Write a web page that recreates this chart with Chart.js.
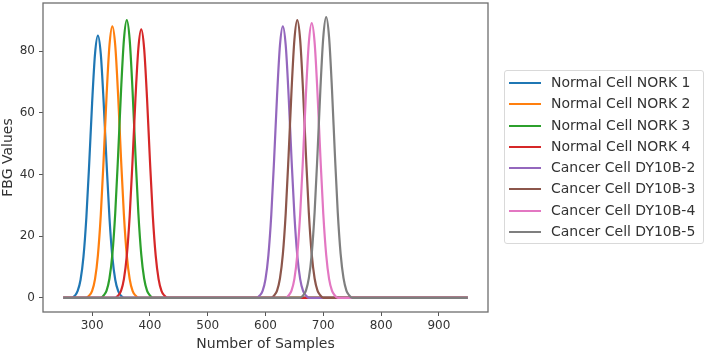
<!DOCTYPE html>
<html>
<head>
<meta charset="utf-8">
<script src="https://cdn.jsdelivr.net/npm/chart.js@4"></script>
<style>
  html, body { margin: 0; padding: 0; background: #fff; }
  #wrap { position: relative; width: 708px; height: 353px; }
  #legend {
    position: absolute; left: 504px; top: 70px; width: 200px; height: 174px;
    border: 1px solid #d9d9d9; border-radius: 3px; box-sizing: border-box;
    padding-top: 1px; font-family: "DejaVu Sans", sans-serif; font-size: 14px; color: #333;
  }
  .row { position: relative; height: 21.3px; }
  .swatch { position: absolute; left: 4px; top: 10px; width: 32px; height: 2px; }
  .lbl { position: absolute; left: 46px; top: 0; line-height: 21.3px; white-space: nowrap; }
</style>
</head>
<body>
<div id="wrap">
  <canvas id="c" width="708" height="353"></canvas>
  <div id="legend"></div>
</div>
<script>
// ---- data ----
const seriesNames = [
  "Normal Cell NORK 1", "Normal Cell NORK 2", "Normal Cell NORK 3", "Normal Cell NORK 4",
  "Cancer Cell DY10B-2", "Cancer Cell DY10B-3", "Cancer Cell DY10B-4", "Cancer Cell DY10B-5"
];
const seriesColors = ["#1f77b4", "#ff7f0e", "#2ca02c", "#d62728", "#9467bd", "#8c564b", "#e377c2", "#7f7f7f"];

const xTicks = [300, 400, 500, 600, 700, 800, 900];
const yTicks = [0, 20, 40, 60, 80];

// x positions (samples) and FBG values for each curve
const nork1X = [250, 265, 270, 275, 280, 285, 290, 295, 300, 305, 310, 315, 320, 325, 330, 335, 340, 345, 350, 355, 950];
const nork1Y = [0, 0, 0.7, 2.3, 5.9, 13.3, 26.0, 43.7, 63.2, 79.0, 85, 79.0, 63.2, 43.7, 26.0, 13.3, 5.9, 2.3, 0.7, 0, 0];
const nork2X = [250, 290, 295, 300, 305, 310, 315, 320, 325, 330, 335, 340, 345, 350, 355, 360, 365, 370, 375, 380, 950];
const nork2Y = [0, 0, 0.8, 2.3, 6.1, 13.8, 26.9, 45.2, 65.5, 81.8, 88, 81.8, 65.5, 45.2, 26.9, 13.8, 6.1, 2.3, 0.8, 0, 0];
const nork3X = [250, 315, 320, 325, 330, 335, 340, 345, 350, 355, 360, 365, 370, 375, 380, 385, 390, 395, 400, 405, 950];
const nork3Y = [0, 0, 0.8, 2.4, 6.3, 14.1, 27.5, 46.3, 67.0, 83.6, 90, 83.6, 67.0, 46.3, 27.5, 14.1, 6.3, 2.4, 0.8, 0, 0];
const nork4X = [250, 340, 345, 350, 355, 360, 365, 370, 375, 380, 385, 390, 395, 400, 405, 410, 415, 420, 425, 430, 950];
const nork4Y = [0, 0, 0.8, 2.3, 6.1, 13.7, 26.6, 44.7, 64.7, 80.8, 87, 80.8, 64.7, 44.7, 26.6, 13.7, 6.1, 2.3, 0.8, 0, 0];
const dy2X = [250, 585, 590, 595, 600, 605, 610, 615, 620, 625, 630, 635, 640, 645, 650, 655, 660, 665, 670, 675, 950];
const dy2Y = [0, 0, 0.8, 2.3, 6.1, 13.8, 26.9, 45.2, 65.5, 81.8, 88, 81.8, 65.5, 45.2, 26.9, 13.8, 6.1, 2.3, 0.8, 0, 0];
const dy3X = [250, 610, 615, 620, 625, 630, 635, 640, 645, 650, 655, 660, 665, 670, 675, 680, 685, 690, 695, 700, 950];
const dy3Y = [0, 0, 0.8, 2.4, 6.3, 14.1, 27.5, 46.3, 67.0, 83.6, 90, 83.6, 67.0, 46.3, 27.5, 14.1, 6.3, 2.4, 0.8, 0, 0];
const dy4X = [250, 635, 640, 645, 650, 655, 660, 665, 670, 675, 680, 685, 690, 695, 700, 705, 710, 715, 720, 725, 950];
const dy4Y = [0, 0, 0.8, 2.4, 6.2, 14.0, 27.2, 45.7, 66.2, 82.7, 89, 82.7, 66.2, 45.7, 27.2, 14.0, 6.2, 2.4, 0.8, 0, 0];
const dy5X = [250, 660, 665, 670, 675, 680, 685, 690, 695, 700, 705, 710, 715, 720, 725, 730, 735, 740, 745, 750, 950];
const dy5Y = [0, 0, 0.8, 2.4, 6.4, 14.3, 27.8, 46.8, 67.7, 84.5, 91, 84.5, 67.7, 46.8, 27.8, 14.3, 6.4, 2.4, 0.8, 0, 0];

const seriesX = [nork1X, nork2X, nork3X, nork4X, dy2X, dy3X, dy4X, dy5X];
const seriesY = [nork1Y, nork2Y, nork3Y, nork4Y, dy2Y, dy3Y, dy4Y, dy5Y];

// ---- chart ----
const datasets = seriesNames.map((name, i) => ({
  label: name,
  data: seriesX[i].map((x, k) => ({ x: x, y: seriesY[i][k] })),
  borderColor: seriesColors[i],
  backgroundColor: seriesColors[i],
  borderWidth: 2.2,
  pointRadius: 0,
  fill: false,
  cubicInterpolationMode: 'monotone',
  order: seriesNames.length - i
}));

const framePlugin = {
  id: 'frame',
  afterDraw(chart) {
    const a = chart.chartArea, ctx = chart.ctx;
    ctx.save();
    ctx.strokeStyle = '#6e6e6e';
    ctx.lineWidth = 1.3;
    ctx.strokeRect(a.left, a.top, a.right - a.left, a.bottom - a.top);
    ctx.restore();
  }
};

const tickFont = { family: "DejaVu Sans", size: 12 };
const titleFont = { family: "DejaVu Sans", size: 14 };

new Chart(document.getElementById('c'), {
  type: 'line',
  data: { datasets },
  options: {
    responsive: false,
    animation: false,
    layout: { padding: { top: 3, right: 220, left: 0, bottom: 0 } },
    plugins: { legend: { display: false }, tooltip: { enabled: false } },
    scales: {
      x: {
        type: 'linear',
        min: 215, max: 985,
        afterBuildTicks: (s) => { s.ticks = xTicks.map(v => ({ value: v })); },
        afterFit: (s) => { s.height = 41; s.paddingLeft = 0; s.paddingRight = 0; },
        grid: { display: true, drawOnChartArea: false, drawTicks: true, tickLength: 4, color: '#555' },
        border: { display: false },
        ticks: { font: tickFont, color: '#333', padding: 2.5, maxRotation: 0 },
        title: { display: true, text: 'Number of Samples', font: titleFont, color: '#333', padding: { top: 0, bottom: 0.5 } }
      },
      y: {
        type: 'linear',
        min: -4.55, max: 95.55,
        afterBuildTicks: (s) => { s.ticks = yTicks.map(v => ({ value: v })); },
        afterFit: (s) => { s.width = 43; s.paddingTop = 0; s.paddingBottom = 0; },
        grid: { display: true, drawOnChartArea: false, drawTicks: true, tickLength: 4, color: '#555' },
        border: { display: false },
        ticks: { font: tickFont, color: '#333', padding: 4 },
        title: { display: true, text: 'FBG Values', font: titleFont, color: '#333', padding: { top: 0, bottom: 0 } }
      }
    }
  },
  plugins: [framePlugin]
});

// ---- legend (HTML text) ----
const leg = document.getElementById('legend');
seriesNames.forEach((name, i) => {
  const row = document.createElement('div');
  row.className = 'row';
  const sw = document.createElement('div');
  sw.className = 'swatch';
  sw.style.background = seriesColors[i];
  const lb = document.createElement('div');
  lb.className = 'lbl';
  lb.textContent = name;
  row.appendChild(sw); row.appendChild(lb);
  leg.appendChild(row);
});
</script>
</body>
</html>
